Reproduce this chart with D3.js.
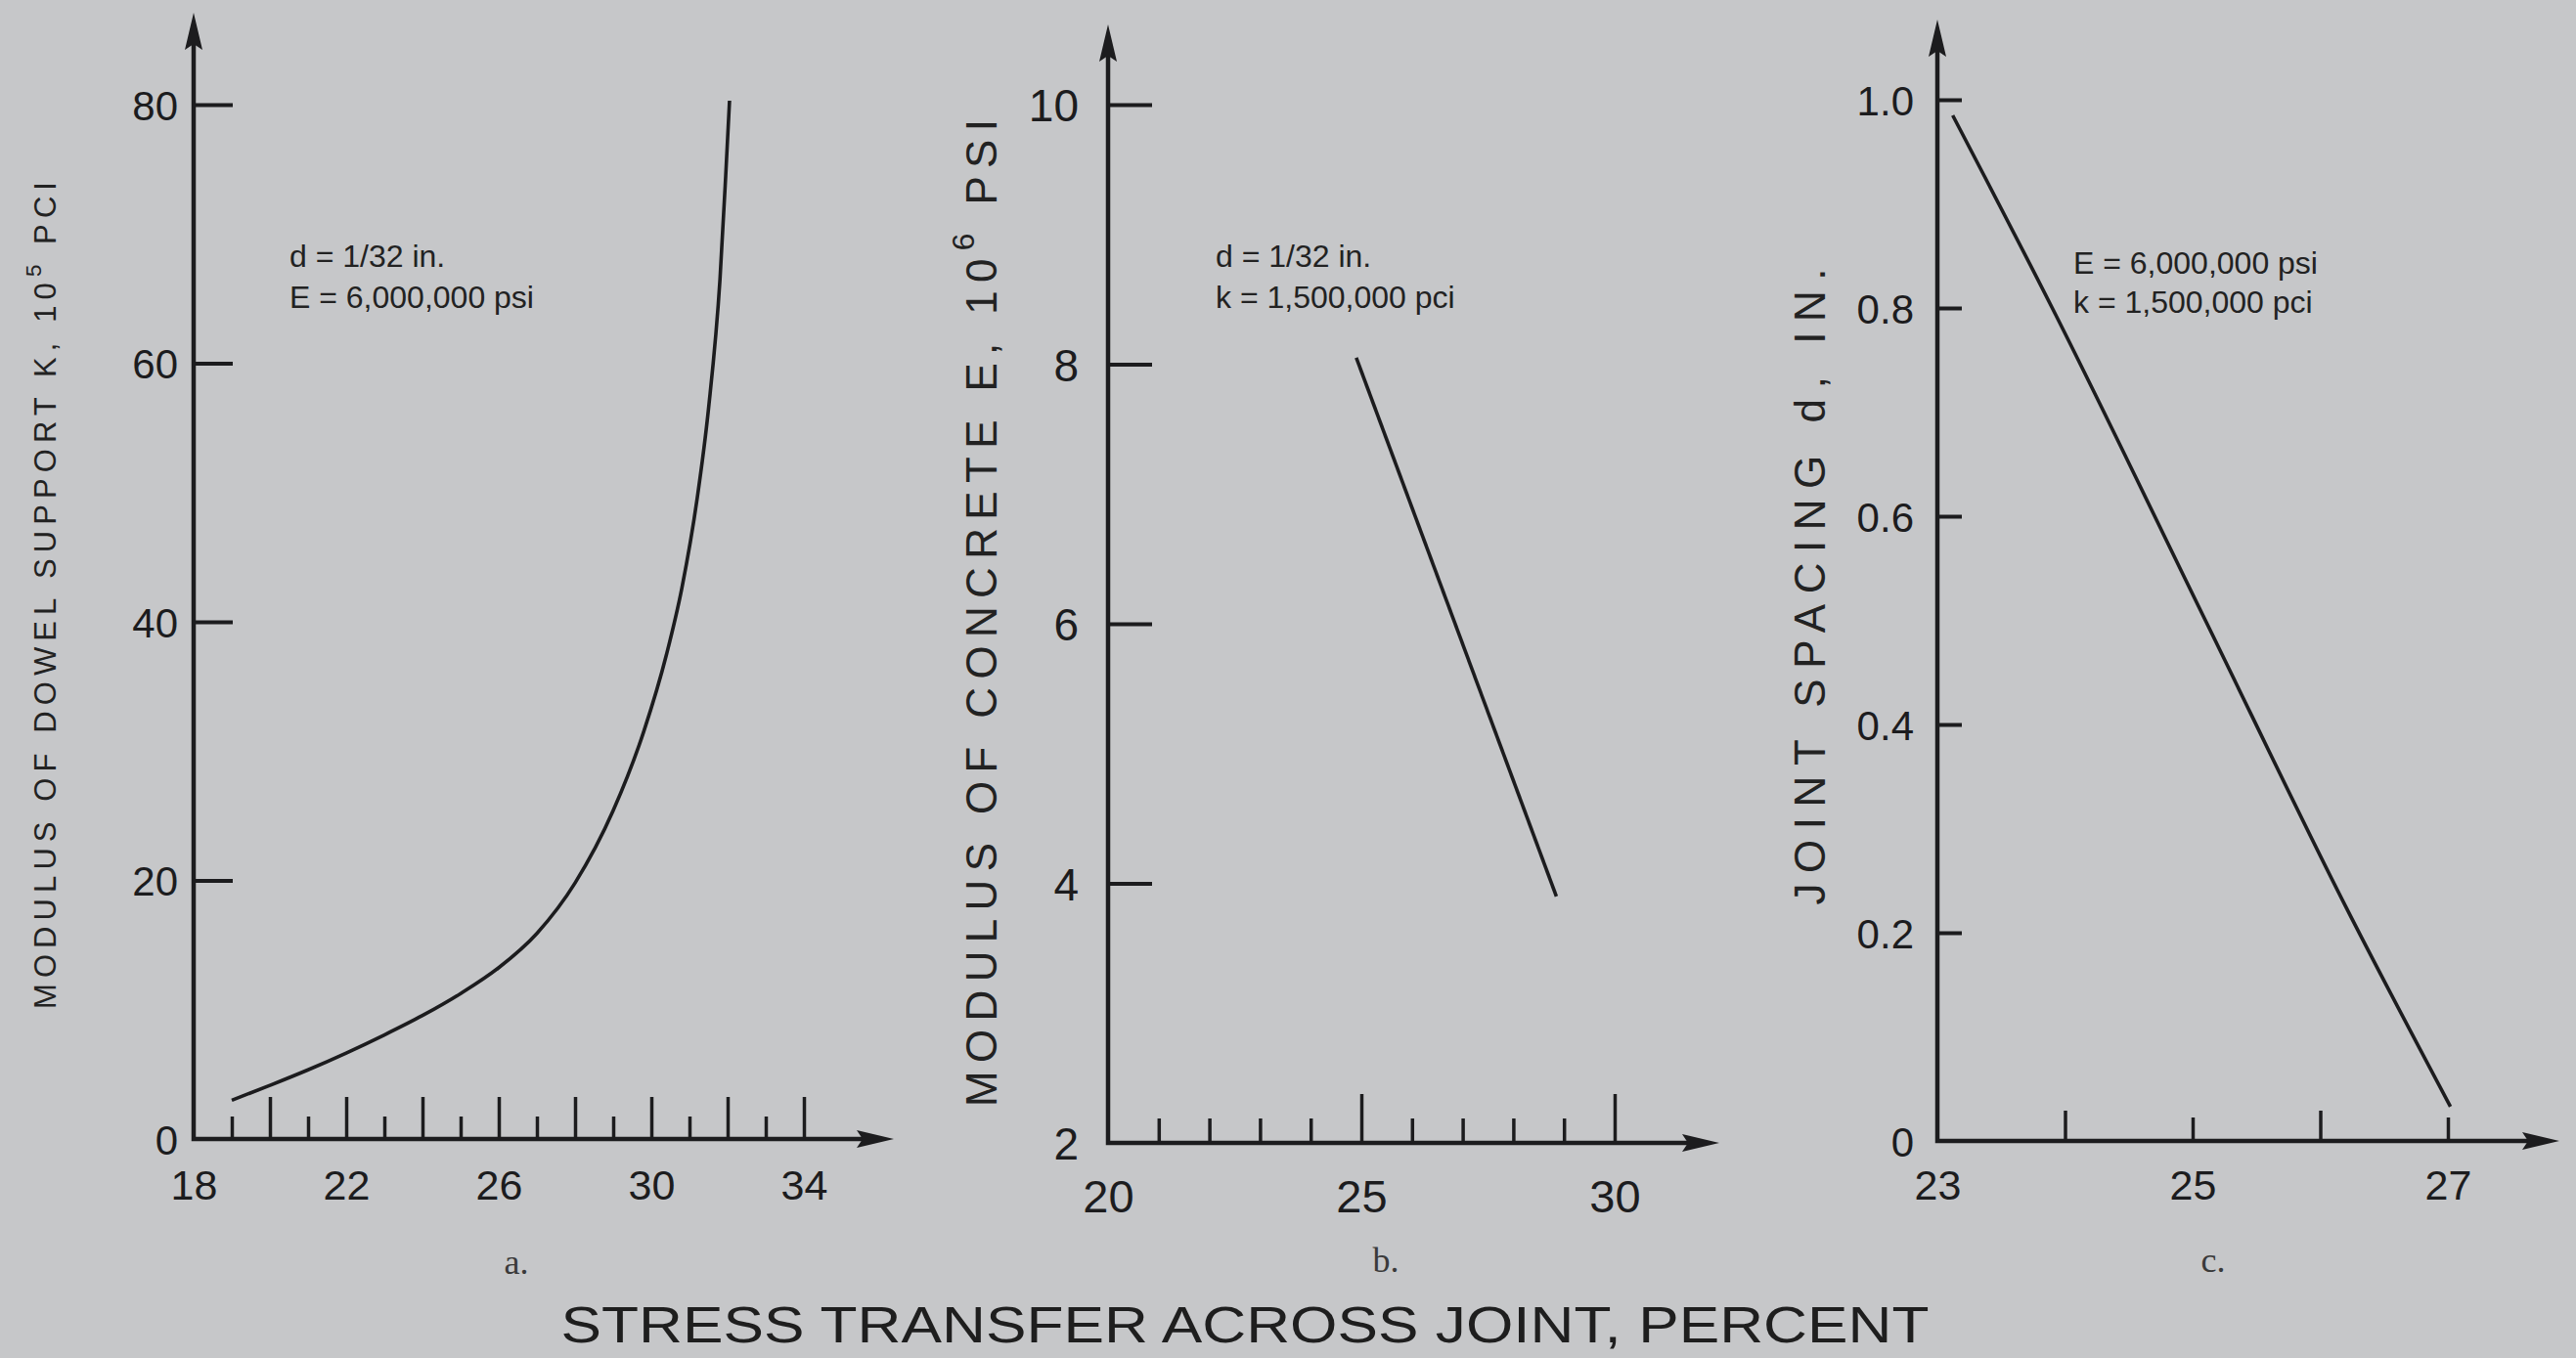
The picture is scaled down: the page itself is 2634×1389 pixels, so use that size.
<!DOCTYPE html>
<html><head><meta charset="utf-8">
<script src="https://cdn.jsdelivr.net/npm/d3@7"></script>
<style>
html,body{margin:0;padding:0;background:#c6c7c9;}
svg{display:block;}
</style></head><body>
<svg id="chart" width="2634" height="1389"></svg>
<script>
// ---------------- DATA ----------------
// Panel a: modulus of dowel support K (10^5 pci) vs stress transfer (%)
const curveA_x = [19.0, 20.0, 21.0, 22.0, 23.0, 24.0, 25.0, 26.0, 27.0, 28.0, 29.0, 29.8, 30.4, 30.8, 31.2, 31.5, 31.8, 31.95, 32.05];
const curveA_y = [3.0, 4.15, 5.35, 6.65, 8.05, 9.55, 11.25, 13.25, 15.9, 19.8, 25.4, 31.5, 37.5, 42.6, 49.5, 56.5, 66.5, 74.5, 80.3];
// Panel b: modulus of concrete E (10^6 psi) vs stress transfer (%)
const lineB_x = [24.9, 28.85];
const lineB_y = [8.05, 3.9];
// Panel c: joint spacing d (in.) vs stress transfer (%)
const lineC_x = [23.12, 23.9, 25.1, 26.2, 27.02];
const lineC_y = [0.985, 0.80, 0.50, 0.225, 0.033];

// tick values / labels
const xTicksA = [19,20,21,22,23,24,25,26,27,28,29,30,31,32,33,34];
const xMajorA = [20,22,24,26,28,30,32,34];
const xLabelsA = [18,22,26,30,34];
const yTicksA = [20,40,60,80];
const yLabelsA = [0,20,40,60,80];

const xTicksB = [21,22,23,24,25,26,27,28,29,30];
const xMajorB = [25,30];
const xLabelsB = [20,25,30];
const yTicksB = [4,6,8,10];
const yLabelsB = [2,4,6,8,10];

const xTicksC = [24,25,26,27];
const xMajorC = [24,26];
const xLabelsC = [23,25,27];
const yTicksC = [0.2,0.4,0.6,0.8,1.0];
const yLabelsC = [0,0.2,0.4,0.6,0.8,1.0];

const titleA = ["MODULUS OF DOWEL SUPPORT K, 10", "5", " PCI"];
const titleB = ["MODULUS OF CONCRETE E, 10", "6", " PSI"];
const titleC = ["JOINT SPACING d, IN.", "", ""];
const noteA = ["d = 1/32 in.", "E = 6,000,000 psi"];
const noteB = ["d = 1/32 in.", "k = 1,500,000 pci"];
const noteC = ["E = 6,000,000 psi", "k = 1,500,000 pci"];
const xTitle = "STRESS TRANSFER ACROSS JOINT, PERCENT";

// ---------------- DRAW ----------------
const ink = '#1c1c1e';
const sans = '"Liberation Sans", Arial, sans-serif';
const svg = d3.select('#chart');
svg.append('rect').attr('width',2634).attr('height',1389).attr('fill','#c6c7c9');

const plain = d => String(d);
const panels = [
  {xs: curveA_x, ys: curveA_y, smooth: true, xDomain:[18,34], yDomain:[0,80],
   xTicks: xTicksA, xMajor: xMajorA, xLabels: xLabelsA, yTicks: yTicksA, yLabels: yLabelsA,
   xFmt: plain, yFmt: plain, title: titleA, note: noteA, caption: 'a.',
   L: {x0:198, x1:822, y0:1165, y1:107, xEnd:914, yEnd:13, major:43, minor:23, yTick:40,
       xLabY:1212, yLabGap:16, tickFont:43, capX:528, capY:1290,
       tX:46, tY:609, tLen:846, tFont:31, nX:296, nY:273, nGap:42, nFont:32}},
  {xs: lineB_x, ys: lineB_y, smooth: false, xDomain:[20,30], yDomain:[2,10],
   xTicks: xTicksB, xMajor: xMajorB, xLabels: xLabelsB, yTicks: yTicksB, yLabels: yLabelsB,
   xFmt: plain, yFmt: plain, title: titleB, note: noteB, caption: 'b.',
   L: {x0:1133, x1:1651, y0:1169, y1:107, xEnd:1758, yEnd:25, major:50, minor:25, yTick:45,
       xLabY:1223, yLabGap:30, tickFont:47, capX:1417, capY:1288,
       tX:1003, tY:627, tLen:1010, tFont:44, nX:1243, nY:273, nGap:42, nFont:32}},
  {xs: lineC_x, ys: lineC_y, smooth: true, xDomain:[23,27], yDomain:[0,1],
   xTicks: xTicksC, xMajor: xMajorC, xLabels: xLabelsC, yTicks: yTicksC, yLabels: yLabelsC,
   xFmt: plain, yFmt: d => d === 0 ? '0' : d3.format('.1f')(d), title: titleC, note: noteC, caption: 'c.',
   L: {x0:1981, x1:2503, y0:1167, y1:102, xEnd:2617, yEnd:20, major:31, minor:24, yTick:25,
       xLabY:1212, yLabGap:24, tickFont:43, capX:2263, capY:1288,
       tX:1850, tY:600, tLen:651, tFont:44, nX:2120, nY:280, nGap:40, nFont:32}}
];

panels.forEach(p => {
  const L = p.L;
  const g = svg.append('g');
  const x = d3.scaleLinear().domain(p.xDomain).range([L.x0, L.x1]);
  const y = d3.scaleLinear().domain(p.yDomain).range([L.y0, L.y1]);

  // x ticks (pointing up, inside)
  const gx = g.append('g').attr('transform', `translate(0,${L.y0})`)
    .call(d3.axisBottom(x).tickValues(p.xTicks).tickSizeOuter(0).tickSizeInner(-L.minor).tickFormat(''));
  gx.select('.domain').remove();
  gx.selectAll('.tick line')
    .attr('y2', d => p.xMajor.includes(d) ? -L.major : -L.minor)
    .attr('stroke', ink).attr('stroke-width', 3.5);

  // x labels
  const gxl = g.append('g').attr('transform', `translate(0,${L.y0})`)
    .call(d3.axisBottom(x).tickValues(p.xLabels).tickSize(0).tickFormat(p.xFmt));
  gxl.select('.domain').remove();
  gxl.selectAll('.tick text').attr('y', L.xLabY - L.y0).attr('dy', '0.36em')
    .attr('fill', ink).attr('font-family', sans).attr('font-size', L.tickFont);

  // y ticks (pointing right, inside)
  const gy = g.append('g').attr('transform', `translate(${L.x0},0)`)
    .call(d3.axisLeft(y).tickValues(p.yTicks).tickSizeOuter(0).tickSizeInner(-L.yTick).tickFormat(''));
  gy.select('.domain').remove();
  gy.selectAll('.tick line').attr('stroke', ink).attr('stroke-width', 4);

  const gyl = g.append('g').attr('transform', `translate(${L.x0},0)`)
    .call(d3.axisLeft(y).tickValues(p.yLabels).tickSize(0).tickPadding(L.yLabGap).tickFormat(p.yFmt));
  gyl.select('.domain').remove();
  gyl.selectAll('.tick text').attr('dy', '0.36em')
    .attr('fill', ink).attr('font-family', sans).attr('font-size', L.tickFont - 1);

  // axis lines with arrowheads
  const aw = 9, al = 38;
  g.append('path')
    .attr('d', `M${L.x0},${L.y0}H${L.xEnd - al + 4}M${L.x0},${L.y0}V${L.yEnd + al - 4}`)
    .attr('stroke', ink).attr('stroke-width', 4.5).attr('fill', 'none').attr('stroke-linecap', 'square');
  g.append('path')
    .attr('d', `M${L.xEnd},${L.y0}L${L.xEnd - al},${L.y0 - aw}L${L.xEnd - al + 6},${L.y0}L${L.xEnd - al},${L.y0 + aw}Z`)
    .attr('fill', ink);
  g.append('path')
    .attr('d', `M${L.x0},${L.yEnd}L${L.x0 - aw},${L.yEnd + al}L${L.x0},${L.yEnd + al - 6}L${L.x0 + aw},${L.yEnd + al}Z`)
    .attr('fill', ink);

  // data curve
  const pts = d3.zip(p.xs, p.ys);
  const line = d3.line().x(d => x(d[0])).y(d => y(d[1]))
    .curve(p.smooth ? d3.curveMonotoneX : d3.curveLinear);
  g.append('path').datum(pts).attr('d', line)
    .attr('fill', 'none').attr('stroke', ink).attr('stroke-width', 3.6);

  // rotated axis title
  const t = g.append('text')
    .attr('transform', `translate(${L.tX},${L.tY}) rotate(-90)`)
    .attr('text-anchor', 'middle').attr('dominant-baseline', 'central')
    .attr('font-family', sans).attr('font-size', L.tFont).attr('fill', '#222')
    .attr('textLength', L.tLen).attr('lengthAdjust', 'spacing');
  t.append('tspan').text(p.title[0]);
  if (p.title[1]) {
    t.append('tspan').attr('dy', -L.tFont * 0.4).attr('font-size', L.tFont * 0.72).text(p.title[1]);
    t.append('tspan').attr('dy', L.tFont * 0.4).text(p.title[2]);
  }

  // annotation
  const n = g.append('text').attr('font-family', sans).attr('font-size', L.nFont).attr('fill', '#222');
  p.note.forEach((s, i) => n.append('tspan').attr('x', L.nX).attr('y', L.nY + i * L.nGap).text(s));

  // caption
  g.append('text').attr('x', L.capX).attr('y', L.capY).attr('dy', '0.35em')
    .attr('text-anchor', 'middle').attr('font-family', '"Liberation Serif", serif')
    .attr('font-size', 36).attr('fill', '#3a3a3a').text(p.caption);
});

// shared x title
svg.append('text').attr('x', 1273).attr('y', 1373)
  .attr('text-anchor', 'middle').attr('font-family', sans).attr('font-size', 52)
  .attr('fill', '#1e1e1e').attr('textLength', 1399).attr('lengthAdjust', 'spacingAndGlyphs')
  .text(xTitle);
</script>
</body></html>
